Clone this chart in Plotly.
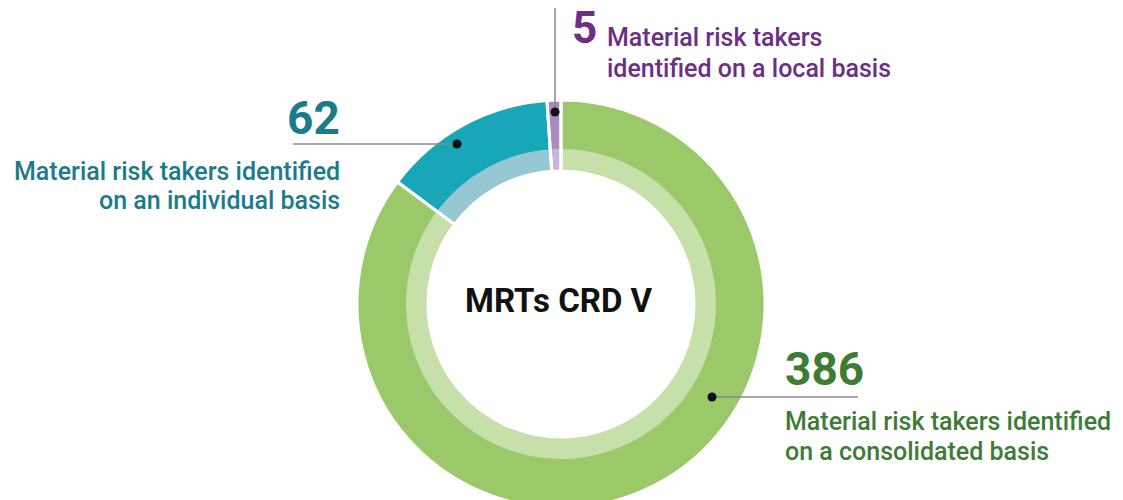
import plotly.graph_objects as go

# Data
categories = ["Consolidated basis", "Individual basis", "Local basis"]
values = [386, 62, 5]
labels_line1 = ["Material risk takers identified", "Material risk takers identified", "Material risk takers"]
labels_line2 = ["on a consolidated basis", "on an individual basis", "identified on a local basis"]
center_label = "MRTs CRD V"

# Colours
dark_colors = ["#9bc868", "#17a7b8", "#a98bc2"]
light_colors = ["#c7dfa9", "#95c8d3", "#cab6da"]
text_colors = ["#3e7c36", "#1b7b8b", "#6c2f85"]

W, H = 1123, 500
OFF = 8                    # page body margin
cx, cy = 561, 304          # donut centre in screen pixels
r_out, r_mid, r_in = 204, 155, 133


def px(x):
    return (x - OFF) / W


def py(y):
    return 1 - (y - OFF) / H


def dom(r):
    return dict(x=[px(cx - r), px(cx + r)], y=[max(0, py(cy + r)), py(cy - r)])


fig = go.Figure()

# Dark outer ring
fig.add_trace(go.Pie(
    labels=categories, values=values, sort=False, direction="clockwise",
    hole=r_in / r_out, domain=dom(r_out),
    marker=dict(colors=dark_colors, line=dict(width=0)),
    textinfo="none", hoverinfo="label+value", showlegend=False
))

# Light inner ring
fig.add_trace(go.Pie(
    labels=categories, values=values, sort=False, direction="clockwise",
    hole=r_in / r_mid, domain=dom(r_mid),
    marker=dict(colors=light_colors, line=dict(width=0)),
    textinfo="none", hoverinfo="skip", showlegend=False
))

# White separators across both rings
fig.add_trace(go.Pie(
    labels=categories, values=values, sort=False, direction="clockwise",
    hole=r_in / r_out, domain=dom(r_out),
    marker=dict(colors=["rgba(0,0,0,0)"] * 3, line=dict(color="white", width=3)),
    textinfo="none", hoverinfo="skip", showlegend=False
))

# Leader lines and dots (screen pixel positions)
leaders = [
    ((712, 397), (858, 397)),   # consolidated
    ((457, 144), (293, 144)),   # individual
    ((555, 112), (555, 0)),     # local
]
for (x0, y0), (x1, y1) in leaders:
    fig.add_shape(type="line", xref="paper", yref="paper",
                  x0=px(x0), y0=py(y0), x1=px(x1), y1=py(y1),
                  line=dict(color="#8a8a8a", width=1.5))
    fig.add_shape(type="circle", xref="paper", yref="paper",
                  x0=px(x0 - 4.5), y0=py(y0 + 4.5), x1=px(x0 + 4.5), y1=py(y0 - 4.5),
                  fillcolor="#111111", line=dict(width=0))

font = "Roboto, Arial, sans-serif"

# Number positions: (x, y, xanchor)
num_pos = [(783, 369, "left"), (342, 118, "right"), (570, 28, "left")]
num_size = [46, 46, 44]
line_pos = [((783, 421), (783, 451), "left"),
            ((342, 171), (342, 200), "right"),
            ((605, 37), (605, 68), "left")]

for i, v in enumerate(values):
    nx, ny, na = num_pos[i]
    fig.add_annotation(x=px(nx), y=py(ny), xref="paper", yref="paper",
                       text=str(v), showarrow=False, xanchor=na, yanchor="middle",
                       font=dict(family=font, size=num_size[i],
                                 color=text_colors[i], weight=700))
    (x1, y1), (x2, y2), la = line_pos[i]
    fig.add_annotation(x=px(x1), y=py(y1), xref="paper", yref="paper",
                       text=labels_line1[i], showarrow=False, xanchor=la, yanchor="middle",
                       font=dict(family=font, size=25, color=text_colors[i], weight=500))
    fig.add_annotation(x=px(x2), y=py(y2), xref="paper", yref="paper",
                       text=labels_line2[i], showarrow=False, xanchor=la, yanchor="middle",
                       font=dict(family=font, size=25, color=text_colors[i], weight=500))

fig.add_annotation(x=px(559), y=py(300), xref="paper", yref="paper",
                   text=center_label, showarrow=False, xanchor="center", yanchor="middle",
                   font=dict(family=font, size=33, color="#111111", weight=700))

fig.update_layout(
    width=W, height=H,
    margin=dict(l=0, r=0, t=0, b=0),
    paper_bgcolor="white", plot_bgcolor="white",
    showlegend=False
)

fig.write_html("out.html")
